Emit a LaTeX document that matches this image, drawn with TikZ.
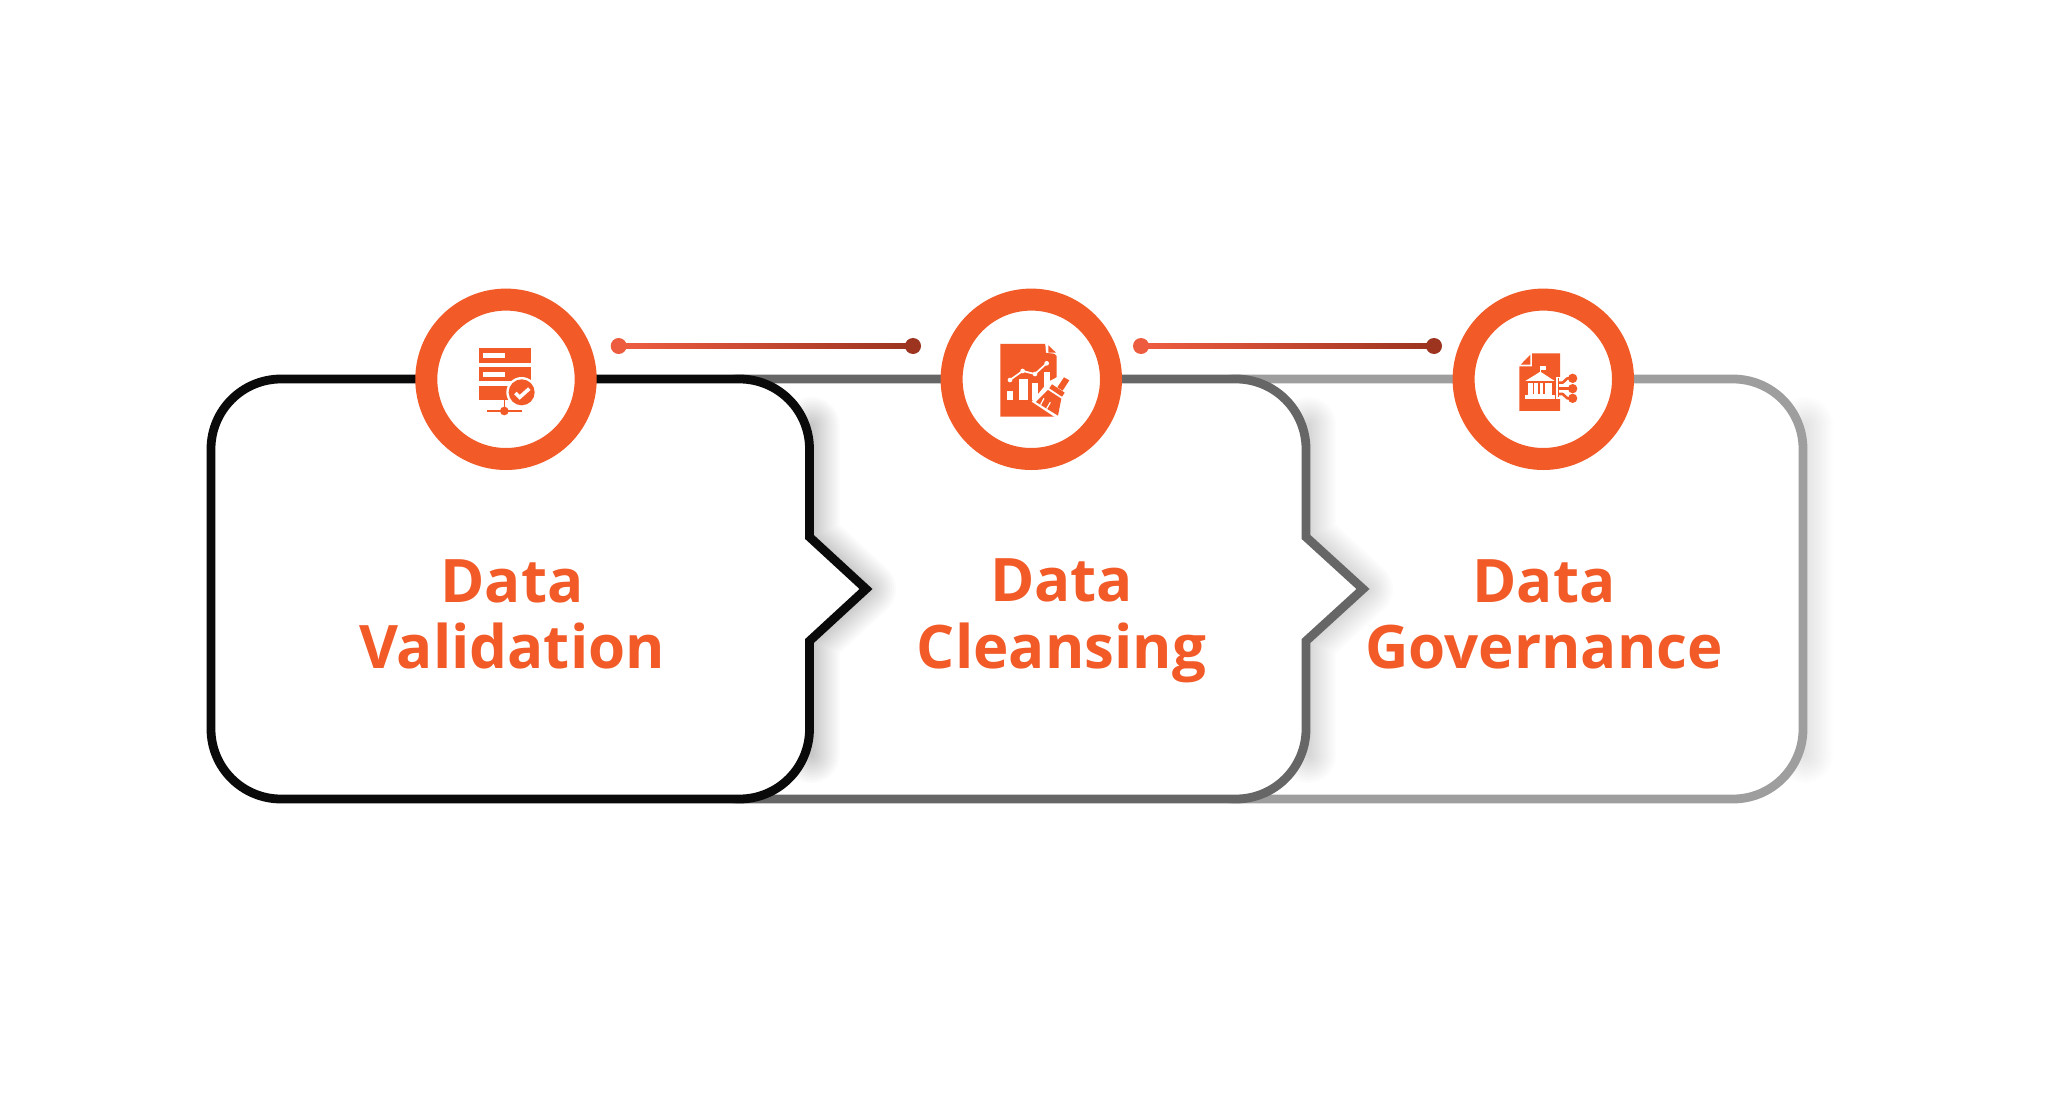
\documentclass[tikz,border=0pt]{standalone}
\usepackage{fontspec}
\setmainfont{Open Sans}
\usetikzlibrary{calc}
\definecolor{org}{HTML}{F25A27}
\definecolor{lnA}{HTML}{EE5C40}
\definecolor{lnB}{HTML}{9C3420}
\definecolor{lnM}{HTML}{E4563B}
\definecolor{bxA}{HTML}{0A0A0A}
\definecolor{bxB}{HTML}{666666}
\definecolor{bxC}{HTML}{9E9E9E}
\tikzset{
  ringnode/.style={circle,draw=org,line width=22pt,fill=white,minimum size=159.4pt,inner sep=0pt},
  dotnode/.style={circle,inner sep=0pt,minimum size=16pt},
  title/.style={text=org,font=\fontsize{60}{66.5}\selectfont\bfseries,align=center,inner sep=0pt},
  boxline/.style={line width=8.8pt,fill=white,miter limit=10},
  softshadow/.style={black,line cap=round,line join=round}
}
\newcommand{\boxoutline}[3]{({#1+70},379) -- ({#2-70},379) .. controls ({#2-31.34},379) and (#2,{379+31.34}) .. (#2,449) #3 -- (#2,729) .. controls (#2,{799-31.34}) and ({#2-31.34},799) .. ({#2-70},799) -- ({#1+70},799) .. controls ({#1+31.34},799) and (#1,{799-31.34}) .. (#1,729) -- (#1,449) .. controls (#1,{379+31.34}) and ({#1+31.34},379) .. cycle}
\newcommand{\shadowrun}[3]{\foreach \w in {4,8,...,56}{\draw[softshadow,opacity=#3,line width=\w pt] ({#1+2},425) #2 -- ({#1+2},755);}}
\begin{document}
\begin{tikzpicture}[x=1pt,y=-1pt]
\useasboundingbox (0,0) rectangle (2048,1105);
\fill[white] (0,0) rectangle (2048,1105);
% box 3
\shadowrun{1803}{}{0.008}
\draw[boxline,draw=bxC] \boxoutline{1166}{1803}{};
% box 2
\shadowrun{1306}{-- (1308,537) -- (1365,589) -- (1308,641)}{0.013}
\draw[boxline,draw=bxB] \boxoutline{670}{1306}{-- (1306,537) -- (1363,589) -- (1306,641)};
% box 1
\shadowrun{809.5}{-- (811.5,537) -- (868,589) -- (811.5,641)}{0.015}
\draw[boxline,draw=bxA] \boxoutline{211}{809.5}{-- (809.5,537) -- (866,589) -- (809.5,641)};
% titles
\node[title] (t1) at (512,614.5) {Data\\Validation};
\node[title] (t2) at (1061.5,621) {Data\\Cleansing};
\node[title] (t3) at (1544,614.5) {Data\\Governance};
% rings
\node[ringnode] (c1) at (506,379.3) {};
\node[ringnode] (c2) at (1031.3,379.3) {};
\node[ringnode] (c3) at (1543.3,379.3) {};
% connectors
\node[dotnode,fill=lnA] (a1) at (618.7,346) {};
\node[dotnode,fill=lnB] (b1) at (913,346) {};
\node[dotnode,fill=lnA] (a2) at (1141,346) {};
\node[dotnode,fill=lnB] (b2) at (1434,346) {};
\draw[lnM,line width=4pt] (a1) -- (b1);
\draw[lnM,line width=4pt] (a2) -- (b2);
\path[left color=lnA,middle color=lnM,right color=lnB] ($(a1)+(6,-2.2)$) rectangle ($(b1)+(-6,2.2)$);
\path[left color=lnA,middle color=lnM,right color=lnB] ($(a2)+(6,-2.2)$) rectangle ($(b2)+(-6,2.2)$);
% icon 1: server with check
\begin{scope}[shift={(400,270)},x=0.3333pt,y=-0.3333pt]
\fill[org] (236,235) rectangle (392,278);
\fill[org] (236,292) rectangle (392,333);
\fill[org] (236,348) rectangle (392,390);
\fill[white] (250,249) rectangle (315,264);
\fill[white] (250,305) rectangle (315,320);
\draw[org,line width=1.5pt] (313,390) -- (313,423);
\draw[org,line width=2pt] (262,423) -- (366,423);
\fill[org] (313,423) circle[radius=13];
\fill[white] (365,367) circle[radius=46];
\fill[org] (365,367) circle[radius=39];
\draw[white,line width=3.6pt,line join=miter] (346,369) -- (359,382) -- (388,356);
\end{scope}
% icon 2: report with brush
\begin{scope}[shift={(920,270)},x=0.3333pt,y=-0.3333pt]
\fill[org] (241,222) -- (375,222) -- (410,258) -- (410,440) -- (241,440) -- cycle;
\fill[white] (376,222) -- (378,248) -- (410,252) -- (410,222) -- cycle;
\fill[org] (385,226) -- (408,248) -- (385,248) -- cycle;
\fill[white] (262,362) rectangle (280,390);
\fill[white] (298,328) rectangle (325,390);
\fill[white] (335,340) rectangle (355,390);
\fill[white] (372,305) rectangle (390,350);
\draw[org,line width=3.4pt] (268,332) -- (308,303) -- (345,312) -- (380,280);
\draw[white,line width=1.7pt] (270,330) -- (308,303) -- (345,312) -- (380,280);
\foreach \p in {(270,330),(308,303),(345,312),(380,280)}{\fill[white] \p circle[radius=7];}
% brush
\fill[white] (430,312) -- (462,325) -- (440,378) -- (418,445) -- (410,445) -- (335,395) -- (385,335) -- cycle;
\fill[org] (432,322) -- (448,331) -- (428,362) -- (412,352) -- cycle;
\fill[org] (396,343) -- (434,368) -- (426,380) -- (388,355) -- cycle;
\fill[org] (384,360) -- (424,386) -- (414,437) -- (348,396) -- cycle;
\draw[white,line width=1.2pt] (372,385) -- (362,404);
\draw[white,line width=1.2pt] (391,397) -- (380,416);
\end{scope}
% icon 3: document with bank and nodes
\begin{scope}[shift={(1430,270)},x=0.3333pt,y=-0.3333pt]
\fill[org] (306,250) -- (390,250) -- (390,423) -- (268,423) -- (268,289) -- (306,289) -- cycle;
\fill[org] (301,254) -- (301,284) -- (272,284) -- cycle;
% bank
\fill[white] (286,333) -- (331,305) -- (374,333) -- cycle;
\draw[white,line width=1.5pt] (331,308) -- (331,292);
\fill[white] (331,289) rectangle (348,300);
\fill[white] (294,338) rectangle (366,374);
\foreach \xx in {308,324,340}{\fill[org] (\xx,340) rectangle ({\xx+5},372);}
\fill[white] (286,376) rectangle (374,387);
% bracket and links
\fill[white] (378,320) rectangle (392,386);
\draw[org,line width=1.6pt] (385,324) -- (385,382);
\draw[org,line width=2.6pt,line join=round] (385,338) -- (398,338) -- (412,325) -- (428,325);
\draw[org,line width=2.6pt] (385,356) -- (428,356);
\draw[org,line width=2.6pt,line join=round] (385,372) -- (398,372) -- (412,385) -- (428,385);
\fill[org] (428,325) circle[radius=14];
\fill[org] (428,356) circle[radius=14];
\fill[org] (428,385) circle[radius=14];
\end{scope}
\end{tikzpicture}
\end{document}
